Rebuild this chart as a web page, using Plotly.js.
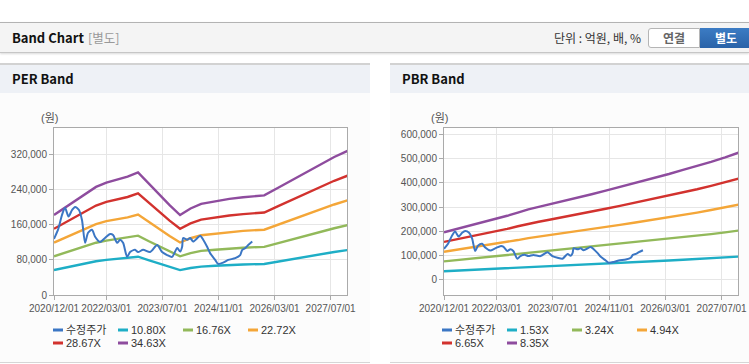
<!DOCTYPE html>
<html><head><meta charset="utf-8">
<script src="https://cdn.plot.ly/plotly-3.0.1.min.js"></script>
<style>
html,body{margin:0;padding:0;background:#fff;width:749px;height:364px;overflow:hidden;font-family:'Noto Sans CJK KR','Noto Sans',sans-serif;}
#hdr{position:absolute;left:0;top:22px;width:749px;height:29px;background:#f4f4f4;border-top:1px solid #b3b3b3;border-bottom:1px solid #c6c6c6;box-shadow:0 1px 2px rgba(0,0,0,0.15);}
#ttl{position:absolute;left:12px;top:0;line-height:29px;font-weight:bold;font-size:13px;color:#111;}
#sub{position:absolute;left:88px;top:0;line-height:29px;font-size:12.5px;color:#999;}
#unit{position:absolute;right:108px;top:0;line-height:29px;font-size:12px;color:#333;}
#b1{position:absolute;left:648px;top:5px;width:50px;height:18px;line-height:18px;border:1px solid #b5b5b5;border-radius:3px 0 0 3px;background:#fff;text-align:center;font-weight:bold;font-size:12px;color:#666;}
#b2{position:absolute;left:700px;top:5px;width:52px;height:20px;line-height:20px;background:linear-gradient(#3c7cc4,#2a63a8);text-align:center;font-weight:bold;font-size:12px;color:#fff;}
.panel{position:absolute;top:63px;height:297px;border-top:2px solid #d2d2d2;border-bottom:1px solid #d6d6d6;background:#fcfcfc;}
#p1{left:0;width:370px;}
#p2{left:390px;width:359px;}
.ph{height:28px;line-height:28px;padding-left:12px;background:#eef1f6;font-weight:bold;font-size:13px;color:#111;}
.chart{position:relative;height:269px;}
</style>
</head><body>
<div id="hdr">
  <span id="ttl">Band Chart</span><span id="sub">[별도]</span>
  <span id="unit">단위 : 억원, 배, %</span>
  <div id="b1">연결</div><div id="b2">별도</div>
</div>
<div class="panel" id="p1"><div class="ph">PER Band</div><div id="c1" class="chart"></div></div>
<div class="panel" id="p2"><div class="ph">PBR Band</div><div id="c2" class="chart"></div></div>
<script>
// ---- data ----
const tickDates = ['2020-12-01','2022-03-01','2023-07-01','2024-11-01','2026-03-01','2027-07-01'];
const tickLabels = ['2020/12/01','2022/03/01','2023/07/01','2024/11/01','2026/03/01','2027/07/01'];

const priceName = '수정주가';
const priceDates = ['2020-12-01','2021-01-05','2021-02-09','2021-03-07','2021-04-06','2021-05-07','2021-06-02','2021-07-06','2021-08-01','2021-08-28','2021-09-23','2021-10-27','2021-11-23','2022-01-05','2022-02-17','2022-04-02','2022-04-28','2022-06-02','2022-06-28','2022-07-24','2022-08-28','2022-09-23','2022-11-05','2022-12-01','2023-01-14','2023-03-16','2023-05-16','2023-06-28','2023-08-11','2023-09-23','2023-11-06','2023-12-02','2023-12-19','2023-12-28','2024-02-01','2024-02-27','2024-03-24','2024-05-24','2024-06-19','2024-07-23','2024-08-19','2024-10-01','2024-10-27','2024-12-10','2025-01-22','2025-03-24','2025-05-06','2025-05-24','2025-06-19','2025-07-15','2025-08-19'];
const priceVals = [128000,149000,183000,199000,179000,194000,201000,194000,171000,119000,142000,149000,133000,121000,130000,139000,137000,119000,126000,119000,87000,98000,103000,98000,103000,98000,114000,98000,91000,87000,107000,99000,110000,130000,126000,130000,122000,135000,126000,110000,95000,80000,71000,74000,80000,84000,91000,103000,107000,114000,122000];

const bandDates = ['2020-12-01','2021-03-01','2021-06-01','2021-09-01','2021-12-01','2022-03-01','2022-06-01','2022-09-01','2022-12-01','2023-03-01','2023-06-01','2023-09-01','2023-12-01','2024-03-01','2024-06-01','2024-10-01','2025-02-01','2025-06-01','2025-12-01','2026-04-01','2026-08-01','2026-12-01','2027-04-01','2027-08-01','2027-12-01'];

const perNames = ['10.80X','16.76X','22.72X','28.67X','34.63X'];
const per1080 = [56900,62000,67000,72000,76900,80000,82300,84200,87300,79400,71500,63900,56900,61600,64800,66600,68400,69600,70800,76400,82000,87500,93100,98200,102800];
const per1676 = [88300,96200,103900,111800,119300,124200,127700,130700,135400,123200,111000,99200,88300,95500,100600,103400,106100,107900,109900,118500,127200,135800,144500,152300,159600];
const per2272 = [119700,130400,140900,151500,161800,168400,173100,177200,183600,167000,150400,134500,119700,129500,136300,140200,143800,146300,149000,160600,172400,184000,195800,206500,216300];
const per2867 = [151100,164600,177800,191200,204100,212400,218500,223600,231700,210700,189800,169700,151100,163400,172000,176900,181500,184600,188100,202700,217600,232200,247100,260600,272900];
const per3463 = [182500,198800,214700,231000,246600,256600,263900,270100,279800,254500,229300,205000,182500,197400,207800,213700,219200,223000,227200,244800,262800,280500,298500,314800,329700];

const pbrNames = ['1.53X','3.24X','4.94X','6.65X','8.35X'];
const pbr153 = [36000,37900,39900,41900,43900,45900,48300,50800,53200,55100,56900,58800,60600,62600,64600,67300,70100,72800,77000,79900,82900,85800,89000,92400,96100];
const pbr324 = [76100,80400,84600,88800,93000,97200,102400,107600,112800,116600,120500,124400,128300,132500,136700,142600,148400,154200,163000,169100,175600,181800,188600,195700,203500];
const pbr494 = [116100,122500,128900,135400,141800,148200,156100,164000,171900,177800,183800,189700,195600,202000,208500,217400,226300,235100,248500,257900,267700,277100,287500,298400,310200];
const pbr665 = [156300,164900,173600,182200,190900,199500,210100,220800,231400,239400,247400,255400,263300,272000,280600,292600,304600,316500,334500,347100,360400,373100,387000,401700,417600];
const pbr835 = [196200,207100,217900,228800,239600,250500,263900,277200,290600,300600,310600,320600,330700,341500,352400,367400,382400,397500,420000,435900,452600,468400,486000,504300,524400];

// ---- styles ----
const bandColors = ['#1eaec6','#92b95a','#f4a638','#d2322e','#8e4c9e'];
const priceColor = '#3b76c4';
const TICKFONT = "'Liberation Sans','Noto Sans CJK KR',sans-serif";

function buildTraces(names, bands){
  const tr = names.map((n,i)=>({type:'scatter',mode:'lines',x:bandDates,y:bands[i],name:n,
    line:{color:bandColors[i],width:2.4},legendrank:i+2}));
  tr.push({type:'scatter',mode:'lines',x:priceDates,y:priceVals,name:priceName,
    line:{color:priceColor,width:2,shape:'spline',smoothing:0.7},legendrank:1});
  return tr;
}

function buildLayout(w, r, yr, dtick){
  const ax = {showgrid:true,gridcolor:'#e6e6e6',gridwidth:1,showline:true,linecolor:'#aaa',linewidth:1,mirror:true,
    ticks:'outside',ticklen:4,tickcolor:'#aaa',zeroline:false,tickangle:0,tickfont:{family:TICKFONT,size:10,color:'#555'}};
  return {
    width:w,height:269,margin:{l:54,r:r,t:35,b:67,autoexpand:false},
    paper_bgcolor:'rgba(0,0,0,0)',plot_bgcolor:'#ffffff',
    font:{family:TICKFONT,size:10,color:'#555'},
    xaxis:Object.assign({},ax,{type:'date',range:['2020-12-01','2027-11-20'],tickmode:'array',tickvals:tickDates,ticktext:tickLabels}),
    yaxis:Object.assign({},ax,{range:yr,tick0:0,dtick:dtick,tickformat:',d'}),
    showlegend:true,
    legend:{orientation:'h',x:0,xanchor:'left',y:-0.12,yanchor:'top',entrywidth:20,entrywidthmode:'pixels',itemwidth:30,
      bgcolor:'rgba(0,0,0,0)',borderwidth:0,font:{family:TICKFONT,size:11,color:'#333'}},
    annotations:[{text:'(원)',xref:'paper',yref:'paper',x:-0.014,y:1.06,showarrow:false,xanchor:'center',yanchor:'middle',
      font:{family:TICKFONT,size:11,color:'#555'}}]
  };
}

function fixLegend(gd, x0, y0){
  const leg = gd.querySelector('g.legend');
  if(!leg) return;
  const m = /translate\(\s*([-\d.e]+)[ ,]+([-\d.e]+)\s*\)/.exec(leg.getAttribute('transform')||'');
  const lx = m ? +m[1] : 0, ly = m ? +m[2] : 0;
  const sb = leg.querySelector('.scrollbox');
  if(sb){ sb.removeAttribute('clip-path'); sb.style.clipPath='none'; sb.setAttribute('transform','translate(0,0)'); }
  leg.querySelectorAll('.traces').forEach((t,i)=>{
    const col=i%4,row=Math.floor(i/4);
    t.setAttribute('transform','translate('+(x0+col*65-lx)+','+(y0+row*13-ly)+')');
    t.querySelectorAll('.legendlines path').forEach(p=>{p.setAttribute('d','M0,0h10');p.style.strokeWidth='3px';});
    const tx=t.querySelector('text.legendtext');
    if(tx){tx.setAttribute('x',13);tx.querySelectorAll('tspan').forEach(s=>{if(s.hasAttribute('x'))s.setAttribute('x',13);});}
  });
}

const cfg = {staticPlot:true,displayModeBar:false};
Plotly.newPlot('c1', buildTraces(perNames,[per1080,per1676,per2272,per2867,per3463]), buildLayout(370,23,[0,381000],80000), cfg)
  .then(gd=>fixLegend(gd,53,237));
Plotly.newPlot('c2', buildTraces(pbrNames,[pbr153,pbr324,pbr494,pbr665,pbr835]), buildLayout(359,11,[-62000,625000],100000), cfg)
  .then(gd=>fixLegend(gd,52,237));
</script>
</body></html>
